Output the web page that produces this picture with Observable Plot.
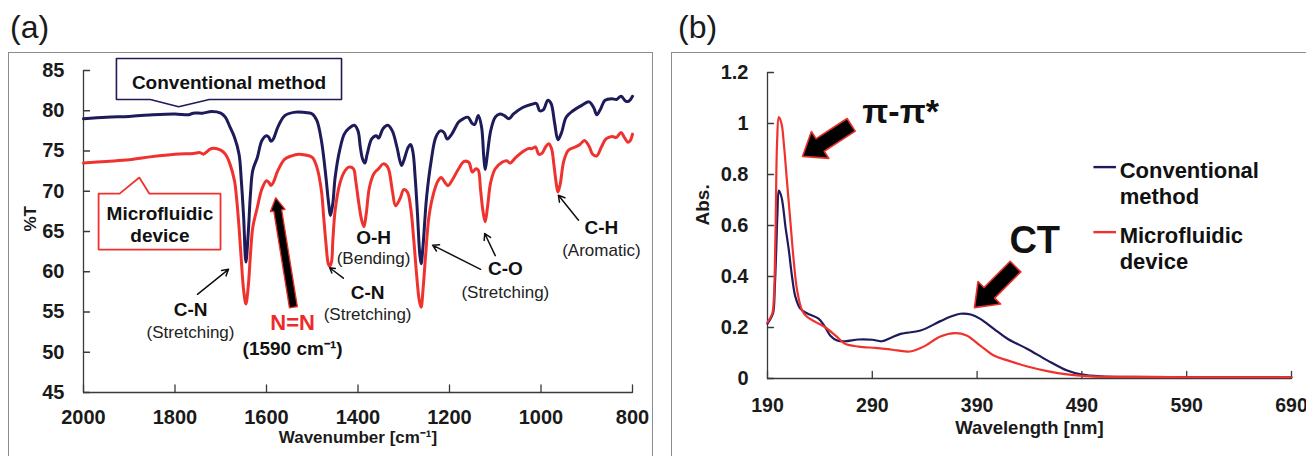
<!DOCTYPE html>
<html><head><meta charset="utf-8">
<script src="https://cdn.jsdelivr.net/npm/d3@7"></script>
<script src="https://cdn.jsdelivr.net/npm/@observablehq/plot@0.6"></script>
<style>
html,body{margin:0;padding:0;background:#fff;}
#wrap{position:relative;width:1306px;height:456px;overflow:hidden;font-family:'Liberation Sans',Arial,Helvetica,sans-serif;}
.panel{position:absolute;top:0;}
.frame{position:absolute;border:1.5px solid #8d8d8d;box-sizing:border-box;}
.tag{position:absolute;font-size:32px;line-height:32px;color:#1a1a1a;}
</style></head><body>
<div id="wrap">
 <div class="frame" style="left:8px;top:52px;width:645px;height:430px"></div>
 <div class="frame" style="left:671px;top:52px;width:660px;height:430px"></div>
 <div class="tag" style="left:10px;top:11px">(a)</div>
 <div class="tag" style="left:678px;top:11px">(b)</div>
 <div id="pa" class="panel" style="left:0px"></div>
 <div id="pb" class="panel" style="left:660px"></div>
</div>
<script>
// ---------- data: (a) FT-IR ----------
const irXTicks = [2000, 1800, 1600, 1400, 1200, 1000, 800];
const irYTicks = [45, 50, 55, 60, 65, 70, 75, 80, 85];

const irConvX = [2000,1950,1900,1850,1800,1770,1760,1740,1720,1700,1690,1680,1670,1660,1655,1650,1645,1640,1635,1630,1620,1610,1600,1595,1590,1585,1575,1560,1540,1520,1500,1490,1480,1470,1465,1460,1455,1450,1440,1430,1420,1408,1400,1395,1390,1385,1380,1370,1360,1355,1345,1335,1325,1315,1305,1300,1290,1285,1280,1275,1270,1265,1262,1258,1250,1240,1230,1220,1212,1205,1195,1180,1170,1160,1150,1145,1137,1130,1125,1122,1118,1110,1100,1090,1080,1070,1060,1040,1020,1010,1003,995,985,978,970,963,955,945,930,910,895,885,878,870,860,845,835,825,815,808,800];
const irConvT = [79.0,79.2,79.3,79.5,79.6,79.5,79.7,79.7,79.9,79.7,79.2,78.0,76.7,74.6,71.3,66.8,61.2,64.7,69.7,72.6,74.2,76.3,76.9,76.7,76.2,76.5,78.0,79.4,79.8,79.8,79.6,78.8,76.3,71.7,68.9,67.0,68.5,71.7,75.1,77.1,77.8,78.2,77.5,75.5,74.0,73.5,74.6,76.5,76.9,76.6,77.8,78.2,77.5,75.5,73.2,73.8,75.5,75.8,74.9,71.7,67.2,62.2,61.0,63.1,69.3,73.8,76.7,77.5,77.3,76.5,77.1,78.6,79.0,79.2,78.4,78.3,79.4,78.0,74.2,72.7,74.2,77.5,79.2,79.6,79.4,79.0,79.6,80.4,80.8,80.9,80.0,80.1,81.3,80.9,78.4,76.4,77.3,79.2,80.0,80.7,81.1,80.4,79.5,80.2,81.3,81.5,81.4,81.8,81.2,81.2,81.8];

const irMicroX = [2000,1950,1900,1850,1800,1760,1745,1738,1720,1700,1690,1680,1670,1665,1660,1655,1650,1645,1640,1635,1630,1620,1610,1600,1595,1590,1585,1575,1560,1545,1530,1515,1500,1490,1480,1475,1470,1465,1462,1458,1455,1450,1440,1430,1420,1410,1405,1398,1392,1387,1382,1375,1365,1355,1345,1335,1325,1318,1308,1300,1292,1285,1278,1272,1266,1262,1258,1252,1245,1235,1225,1218,1210,1203,1195,1180,1168,1158,1150,1142,1137,1132,1127,1122,1117,1110,1100,1085,1075,1068,1055,1040,1028,1020,1012,1005,998,990,983,977,972,967,963,958,950,940,925,915,905,895,887,878,868,858,845,835,825,818,810,805,800];
const irMicroT = [73.5,73.7,73.9,74.3,74.6,74.7,74.8,74.6,75.3,75.1,74.6,73.4,71.3,68.9,65.5,61.4,57.7,56.0,58.1,62.2,65.5,68.0,70.3,71.3,71.1,70.7,71.1,72.6,74.0,74.4,74.6,74.5,74.2,73.0,70.1,66.8,63.5,61.0,60.7,61.2,63.9,67.6,70.9,72.4,73.0,72.8,71.3,68.4,66.4,65.6,67.2,70.5,72.2,72.8,73.4,73.0,70.1,68.2,69.1,70.2,69.9,68.0,63.9,59.7,56.4,55.6,57.7,62.2,66.8,69.7,71.3,71.7,71.1,70.7,71.3,72.8,73.7,73.6,72.4,72.8,72.6,70.1,67.6,66.2,68.0,71.1,72.8,73.6,73.8,73.5,74.2,74.9,75.3,75.3,75.5,74.6,74.7,75.5,75.9,75.3,73.4,71.1,69.9,70.9,73.8,75.1,75.5,75.8,76.3,75.6,74.6,74.4,75.5,76.5,76.8,76.7,77.3,76.7,76.1,76.3,77.1];

// annotations of (a), in data units
const irBondText = ["C-N", "O-H", "C-N", "C-O", "C-H"];
const irBondX = [1766, 1366, 1379, 1078, 868];
const irBondY = [55.3, 64.25, 57.4, 60.3, 65.4];
const irModeText = ["(Stretching)", "(Bending)", "(Stretching)", "(Stretching)", "(Aromatic)"];
const irModeX = [1766, 1366, 1379, 1078, 868];
const irModeY = [52.5, 61.6, 54.7, 57.4, 62.6];
const irArrowX1 = [1751, 1432, 1132, 1100, 918];
const irArrowY1 = [57.2, 59.2, 60.3, 62.0, 66.4];
const irArrowX2 = [1683, 1462, 1237, 1123, 962];
const irArrowY2 = [60.3, 60.5, 63.3, 64.75, 69.5];
const nnText = ["N=N"];
const nnSub = ["(1590 cm\u207B\u00B9)"];
const nnPos = [1543, 53.6, 50.45];
const nnArrowTip = [1580, 69.2];
const convBoxX = [1928, 1436, 1436, 1725, 1792, 1854, 1928, 1928];
const convBoxY = [86.5, 86.5, 81.4, 81.4, 80.5, 81.4, 81.4, 86.5];
const microBoxX = [1967, 1921, 1878, 1856, 1700.5, 1700.5, 1967, 1967];
const microBoxY = [69.7, 69.7, 71.7, 69.7, 69.7, 62.76, 62.76, 69.7];
const boxText = ["Conventional method", "Microfluidic\ndevice"];
const boxTextX = [1682, 1833];
const boxTextY = [84.67, 68.35];

// ---------- data: (b) UV-vis ----------
const uvXTicks = [190, 290, 390, 490, 590, 690];
const uvYTicks = [0, 0.2, 0.4, 0.6, 0.8, 1, 1.2];
const uvConvX = [190,193,195.5,197,198.3,199.5,200.8,203.4,207.2,210.4,213.5,216.7,221.5,229,239,245,250,256.5,264,277,290,299,308,317,336,355,365,374,384,393,406,419,438,457,476,489,508,540,600,650,690];
const uvConvA = [0.215,0.235,0.26,0.36,0.50,0.65,0.737,0.711,0.593,0.502,0.397,0.319,0.273,0.253,0.234,0.201,0.168,0.149,0.146,0.153,0.152,0.146,0.160,0.175,0.188,0.225,0.243,0.254,0.251,0.234,0.195,0.156,0.116,0.071,0.031,0.016,0.008,0.006,0.005,0.005,0.005];
const uvMicroX = [190,194.5,196,197.6,199.2,200.8,203.4,205.6,208.8,212,215,218.3,223,228,236,245,255,264,277,293,305,314,326,339,355,369,380,393,406,419,438,457,476,495,520,600,690];
const uvMicroA = [0.22,0.254,0.31,0.567,0.933,1.025,0.999,0.92,0.763,0.607,0.463,0.345,0.267,0.241,0.221,0.201,0.168,0.136,0.125,0.120,0.115,0.110,0.106,0.125,0.165,0.178,0.169,0.129,0.090,0.071,0.047,0.029,0.016,0.009,0.006,0.005,0.005];
const uvPeakText = ["\u03C0-\u03C0*", "CT"];
const uvPeakX = [317, 445];
const uvPeakY = [1.043, 0.538];
const uvArrowX = [223.4, 387.5];
const uvArrowY = [0.871, 0.278];
const uvArrowAngle = [-123, -135];
const legendText = ["Conventional\nmethod", "Microfluidic\ndevice"];
const legendX1 = [501, 501], legendX2 = [522.5, 522.5];
const legendLineY = [0.829, 0.574];
const legendTextX = [526, 526];
const legendTextY = [0.855, 0.600];

// ---------- styles ----------
const FONT = "'Liberation Sans', Arial, Helvetica, sans-serif";
const NAVY = "#1d1b59", RED = "#f0322e", AXIS = "#3a3a3a";
const tickShape = {draw(ctx, l) { ctx.moveTo(0, 0); ctx.lineTo(0, -l); }};
const fatArrow = (w, hw, hl) => ({draw(ctx, l) {
  const b = -(l - hl);
  ctx.moveTo(-w, 0); ctx.lineTo(-w, b); ctx.lineTo(-hw, b); ctx.lineTo(0, -l);
  ctx.lineTo(hw, b); ctx.lineTo(w, b); ctx.lineTo(w, 0); ctx.closePath();
}});

// ---------- panel (a) ----------
const pa = Plot.plot({
  width: 660, height: 456,
  marginLeft: 83, marginRight: 28, marginTop: 70, marginBottom: 64,
  x: {domain: [2000, 800]},
  y: {domain: [45, 85]},
  style: {fontFamily: FONT, color: "#1a1a1a", background: "transparent", overflow: "visible"},
  marks: [
    Plot.axisX({ticks: irXTicks, tickSize: 0, tickPadding: 17, fontSize: 20, fontWeight: "bold", tickFormat: d => String(d), label: null}),
    Plot.axisY({ticks: irYTicks, tickSize: 0, tickPadding: 19, fontSize: 20, fontWeight: "bold", tickFormat: d => String(d), label: null}),
    Plot.ruleX([2000], {stroke: AXIS, strokeWidth: 1.3}),
    Plot.ruleY([45], {stroke: AXIS, strokeWidth: 1.3}),
    Plot.vector(irXTicks, {x: d => d, frameAnchor: "bottom", length: 7.5, rotate: 0, anchor: "start", shape: tickShape, stroke: AXIS, strokeWidth: 1.3}),
    Plot.vector(irYTicks, {y: d => d, frameAnchor: "left", length: 6, rotate: 90, anchor: "start", shape: tickShape, stroke: AXIS, strokeWidth: 1.3}),
    Plot.text(["Wavenumber [cm\u207B\u00B9]"], {frameAnchor: "bottom", dy: 50, text: d => d, fontSize: 17, fontWeight: "bold"}),
    Plot.text(["%T"], {frameAnchor: "left", dx: -53, rotate: -90, text: d => d, fontSize: 17, fontWeight: "bold"}),
    Plot.line(irConvT, {x: irConvX, y: irConvT, stroke: NAVY, strokeWidth: 3, curve: "catmull-rom"}),
    Plot.line(irMicroT, {x: irMicroX, y: irMicroT, stroke: RED, strokeWidth: 3, curve: "catmull-rom"}),
    Plot.line(convBoxX, {x: convBoxX, y: convBoxY, stroke: NAVY, strokeWidth: 1.6, fill: "white", strokeLinejoin: "miter"}),
    Plot.line(microBoxX, {x: microBoxX, y: microBoxY, stroke: RED, strokeWidth: 1.8, fill: "white", strokeLinejoin: "miter"}),
    Plot.text(boxText, {x: boxTextX, y: boxTextY, text: d => d, lineAnchor: "top", lineHeight: 1.16, fontSize: 19, fontWeight: "bold", fill: "#111"}),
    Plot.text(irBondText, {x: irBondX, y: irBondY, text: d => d, fontSize: 19, fontWeight: "bold", fill: "#111"}),
    Plot.text(irModeText, {x: irModeX, y: irModeY, text: d => d, fontSize: 17, fill: "#222"}),
    Plot.arrow(irArrowX1, {x1: irArrowX1, y1: irArrowY1, x2: irArrowX2, y2: irArrowY2, stroke: "#111", strokeWidth: 1.5, headLength: 7}),
    Plot.text(nnText, {x: [nnPos[0]], y: [nnPos[1]], text: d => d, fontSize: 22, fontWeight: "bold", fill: "#ee2b2b"}),
    Plot.text(nnSub, {x: [nnPos[0]], y: [nnPos[2]], text: d => d, fontSize: 19, fontWeight: "bold", fill: "#111"}),
    Plot.vector([nnArrowTip], {x: d => d[0], y: d => d[1], length: 111, rotate: -9.2, anchor: "end", shape: fatArrow(4, 7.5, 13), fill: "black", stroke: "#e8322c", strokeWidth: 1.3})
  ]
});
document.getElementById("pa").appendChild(pa);

// ---------- panel (b) ----------
const pb = Plot.plot({
  width: 646, height: 456,
  marginLeft: 107, marginRight: 15, marginTop: 72, marginBottom: 78,
  x: {domain: [190, 690]},
  y: {domain: [0, 1.2]},
  style: {fontFamily: FONT, color: "#1a1a1a", background: "transparent", overflow: "visible"},
  marks: [
    Plot.axisX({ticks: uvXTicks, tickSize: 0, tickPadding: 20, fontSize: 19.5, fontWeight: "bold", tickFormat: d => String(d), label: null}),
    Plot.axisY({ticks: uvYTicks, tickSize: 0, tickPadding: 19, fontSize: 20, fontWeight: "bold", tickFormat: d => String(d), label: null}),
    Plot.ruleX([190], {stroke: AXIS, strokeWidth: 1.3}),
    Plot.ruleY([0], {stroke: AXIS, strokeWidth: 1.3}),
    Plot.vector(uvXTicks, {x: d => d, frameAnchor: "bottom", length: 7, rotate: 0, anchor: "start", shape: tickShape, stroke: AXIS, strokeWidth: 1.3}),
    Plot.vector(uvYTicks, {y: d => d, frameAnchor: "left", length: 6, rotate: 90, anchor: "start", shape: tickShape, stroke: AXIS, strokeWidth: 1.3}),
    Plot.text(["Wavelength [nm]"], {frameAnchor: "bottom", dy: 55, text: d => d, fontSize: 18.5, fontWeight: "bold"}),
    Plot.text(["Abs."], {frameAnchor: "left", dx: -65, rotate: -90, text: d => d, fontSize: 19, fontWeight: "bold"}),
    Plot.line(uvConvA, {x: uvConvX, y: uvConvA, stroke: NAVY, strokeWidth: 2.2, curve: "catmull-rom"}),
    Plot.line(uvMicroA, {x: uvMicroX, y: uvMicroA, stroke: RED, strokeWidth: 2.2, curve: "catmull-rom"}),
    Plot.vector(uvArrowX, {x: uvArrowX, y: uvArrowY, rotate: uvArrowAngle, length: 58, anchor: "end", shape: fatArrow(7.5, 16, 21), fill: "black", stroke: "#e8322c", strokeWidth: 1.6}),
    Plot.text([uvPeakText[0]], {x: [uvPeakX[0]], y: [uvPeakY[0]], text: d => d, fontSize: 34, fontWeight: "bold", fill: "#111"}),
    Plot.text([uvPeakText[1]], {x: [uvPeakX[1]], y: [uvPeakY[1]], text: d => d, fontSize: 38, fontWeight: "bold", fill: "#111"}),
    Plot.link(legendLineY, {x1: legendX1, x2: legendX2, y1: legendLineY, y2: legendLineY, stroke: [NAVY, RED], strokeWidth: 2.4}),
    Plot.text(legendText, {x: legendTextX, y: legendTextY, text: d => d, textAnchor: "start", lineAnchor: "top", lineHeight: 1.15, fontSize: 22, fontWeight: "bold", fill: "#111"})
  ]
});
document.getElementById("pb").appendChild(pb);
</script>
</body></html>
